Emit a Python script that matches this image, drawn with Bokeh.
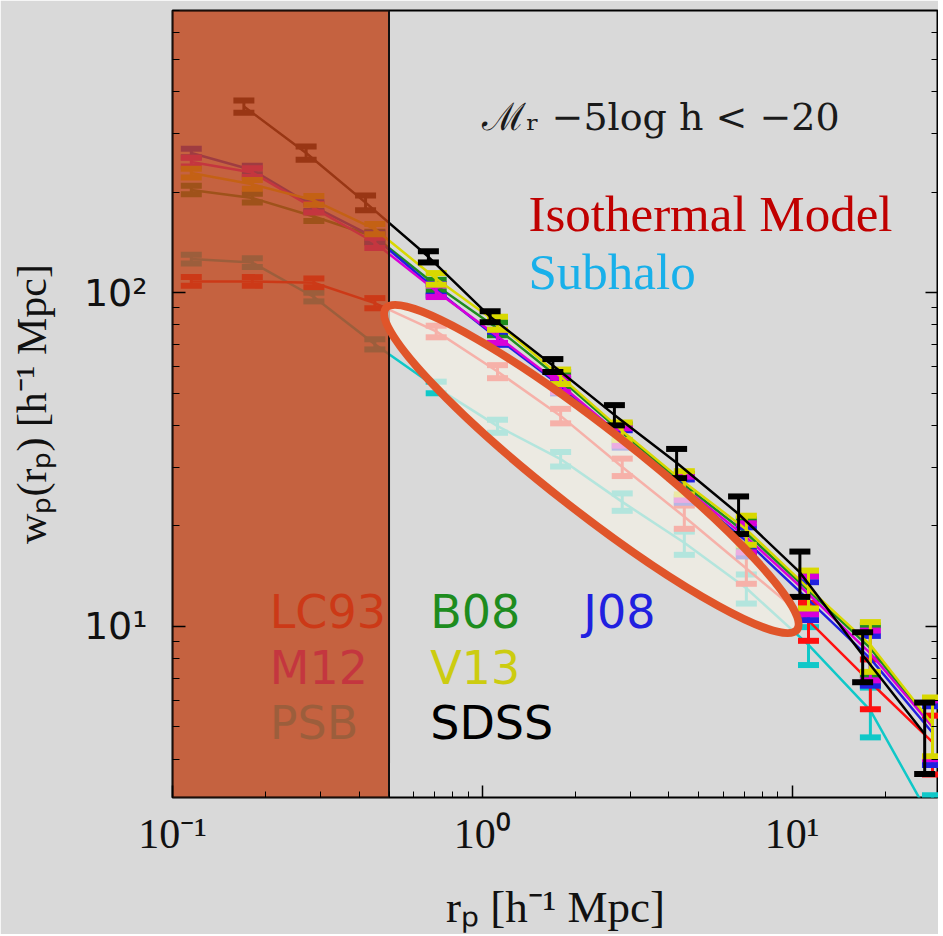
import numpy as np
from bokeh.plotting import figure
from bokeh.models import FixedTicker, CustomJSTickFormatter, Range1d, LogAxis
from bokeh.core.properties import value
from bokeh.embed import file_html
from bokeh.resources import INLINE

# ---------------- data ----------------
rp_sdss = [0.17, 0.27, 0.42, 0.67, 1.06, 1.69, 2.67, 4.24, 6.72, 10.6, 16.9, 26.8]
wp_sdss = [361, 262, 186, 128, 84.7, 60.5, 43.0, 30.9, 21.7, 14.5, 8.2, 4.76]
err_sdss = [15, 12, 9.5, 4.9, 3.2, 2.7, 3.0, 3.1, 2.8, 2.25, 1.4, 1.15]

rp_model = [0.115, 0.181, 0.286, 0.45, 0.71, 1.12, 1.79, 2.83, 4.49, 7.12, 11.3, 17.9, 28.4]
wp_lc93 = [108, 108, 107, 93, 76.5, 58, 42.7, 30.0, 21.3, 14.9, 10.4, 6.8, 4.5]
wp_psb = [126, 123, 97, 70, 52, 39.8, 31.7, 23.6, 17.8, 13.0, 8.8, 5.6, 2.6]
wp_m12 = [246, 229, 179, 141, 101, 74, 53, 37, 26, 18.5, 12.5, 8.3, 5.0]
wp_j08 = [262, 233, 181, 146, 102, 73, 52.5, 36.5, 25.5, 18.0, 12.0, 8.0, 4.8]
wp_v13 = [228, 211, 189, 155, 110, 81, 56, 38.5, 27, 19.5, 13.0, 8.8, 5.1]
wp_b08 = [203, 192, 169, 147, 105, 78, 55, 38, 26.5, 19.0, 12.8, 8.6, 5.0]
model_err_frac = [0.03, 0.03, 0.03, 0.035, 0.04, 0.045, 0.05, 0.06, 0.08, 0.10, 0.13, 0.17, 0.20]

model_names = ["PSB", "LC93", "B08", "J08", "M12", "V13"]
model_values = [wp_psb, wp_lc93, wp_b08, wp_j08, wp_m12, wp_v13]
model_colors = ["#10C8C8", "#FF1010", "#1E8C1E", "#2020E0", "#D800D8", "#D8D800"]

legend_names = ["LC93", "B08", "J08", "M12", "V13", "PSB", "SDSS"]
legend_colors = ["#FF1010", "#1E8C1E", "#2020E0", "#D800D8", "#CCCC10", "#10C8C8", "#000000"]
legend_x = [0.206, 0.679, 2.12, 0.206, 0.679, 0.206, 0.679]
legend_y = [10.0, 10.0, 10.0, 6.81, 6.81, 4.67, 4.67]

x_lo, x_hi = 0.1, 29.7
y_lo, y_hi = 3.07, 700
shade_right = 0.5

x_major = [0.1, 1, 10]
x_minor = [0.2, 0.3, 0.4, 0.5, 0.6, 0.7, 0.8, 0.9, 2, 3, 4, 5, 6, 7, 8, 9, 20]
y_major = [10, 100]
y_minor = [4, 5, 6, 7, 8, 9, 20, 30, 40, 50, 60, 70, 80, 90, 200, 300, 400, 500, 600, 700]

BG = "#D9D9D9"
TXT_DY = -18   # screen-pixel nudge of slide texts
LEG_DY = -14   # screen-pixel nudge of legend texts

p = figure(width=938, height=934, x_axis_type="log", y_axis_type="log",
           x_range=Range1d(x_lo, x_hi), y_range=Range1d(y_lo, y_hi),
           output_backend="svg", toolbar_location=None,
           min_border_left=172, min_border_right=0, min_border_top=10, min_border_bottom=134)
p.background_fill_color = BG
p.border_fill_color = BG
p.outline_line_color = "black"
p.outline_line_width = 2
p.grid.visible = False

sup = "const m={'-':'\u207b','0':'\u2070','1':'\u00b9','2':'\u00b2','3':'\u00b3'};" \
      "const e=Math.round(Math.log10(tick));" \
      "return '10'+String(e).split('').map(c=>m[c]).join('');"

xax = p.xaxis[0]
xax.ticker = FixedTicker(ticks=x_major, minor_ticks=x_minor)
xax.formatter = CustomJSTickFormatter(code=sup)
xax.axis_line_color = None
xax.major_tick_in = 12
xax.major_tick_out = 0
xax.minor_tick_in = 6
xax.minor_tick_out = 0
xax.major_tick_line_width = 1.5
xax.major_label_text_font = "Liberation Serif"
xax.major_label_text_font_size = "42px"
xax.major_label_text_color = "#111111"
xax.major_label_standoff = 13
xax.axis_label = "r\u209a [h\u207b\u00b9 Mpc]"
xax.axis_label_text_font = "Liberation Serif"
xax.axis_label_text_font_style = "normal"
xax.axis_label_text_font_size = "45px"
xax.axis_label_text_color = "#111111"
xax.axis_label_standoff = 22

yax = p.yaxis[0]
yax.ticker = FixedTicker(ticks=y_major, minor_ticks=y_minor)
yax.formatter = CustomJSTickFormatter(code=sup)
yax.axis_line_color = None
yax.major_tick_in = 13
yax.major_tick_out = 0
yax.minor_tick_in = 7
yax.minor_tick_out = 0
yax.major_tick_line_width = 1.5
yax.major_label_text_font = "DejaVu Sans"
yax.major_label_text_font_size = "38px"
yax.major_label_text_color = "#111111"
yax.major_label_standoff = 25
yax.axis_label = "w\u209a(r\u209a) [h\u207b\u00b9 Mpc]"
yax.axis_label_text_font = "Liberation Serif"
yax.axis_label_text_font_style = "normal"
yax.axis_label_text_font_size = "42px"
yax.axis_label_text_color = "#111111"
yax.axis_label_standoff = 26

rax = LogAxis(ticker=FixedTicker(ticks=y_major, minor_ticks=y_minor),
              formatter=CustomJSTickFormatter(code="return ' ';"),
              major_label_text_font_size="1px", major_label_text_alpha=0,
              major_label_standoff=0,
              axis_line_color=None, major_tick_in=13, major_tick_out=0,
              minor_tick_in=7, minor_tick_out=0, major_tick_line_width=1.5)
p.add_layout(rax, "right")

# ---------------- model curves ----------------
for vals, col in zip(model_values, model_colors):
    lo = [v * (1 - e) for v, e in zip(vals, model_err_frac)]
    hi = [v * (1 + e) for v, e in zip(vals, model_err_frac)]
    p.line(rp_model, vals, line_color=col, line_width=2.5)
    p.segment(x0=rp_model, y0=lo, x1=rp_model, y1=hi, line_color=col, line_width=3)
    p.scatter(rp_model + rp_model, lo + hi, marker="dash", size=21, line_color=col, line_width=6)

# ---------------- SDSS ----------------
lo = [v - e for v, e in zip(wp_sdss, err_sdss)]
hi = [v + e for v, e in zip(wp_sdss, err_sdss)]
p.line(rp_sdss, wp_sdss, line_color="black", line_width=2.5)
p.segment(x0=rp_sdss, y0=lo, x1=rp_sdss, y1=hi, line_color="black", line_width=3)
p.scatter(rp_sdss + rp_sdss, lo + hi, marker="dash", size=21, line_color="black", line_width=6)

# ---------------- legend texts ----------------
p.text(x=legend_x, y=legend_y, text=legend_names, text_color=legend_colors,
       text_font=value("DejaVu Sans"), text_font_size="46px", y_offset=LEG_DY,
       text_baseline="alphabetic", text_align="left")

# ---------------- shaded region (slide overlay) ----------------
p.quad(left=[x_lo], right=[shade_right], bottom=[y_lo], top=[y_hi],
       fill_color="#BF4419", fill_alpha=0.8, line_color="#111111", line_width=2)

# ---------------- highlight ellipse ----------------
p.ellipse(x=[2.25], y=[29.6], width=522, height=84, angle=np.deg2rad(-38),
          width_units="screen", height_units="screen",
          fill_color="#F3F0E4", fill_alpha=0.72, line_color="#E0552A", line_width=8)

# ---------------- annotations ----------------
p.text(x=[1.0], y=[296], text=["\u2133\u1d63 \u22125log h < \u221220"], text_color="#1A1A1A",
       text_font=value("DejaVu Serif"), text_font_size="38px", y_offset=TXT_DY,
       text_baseline="alphabetic")
p.text(x=[1.41], y=[152], text=["Isothermal Model"], text_color="#C00000",
       text_font=value("Liberation Serif"), text_font_size="51px", y_offset=TXT_DY,
       text_baseline="alphabetic")
p.text(x=[1.41], y=[102], text=["Subhalo"], text_color="#18B0EA",
       text_font=value("Liberation Serif"), text_font_size="51px", y_offset=TXT_DY,
       text_baseline="alphabetic")

open("out.html", "w").write(file_html(p, INLINE))
